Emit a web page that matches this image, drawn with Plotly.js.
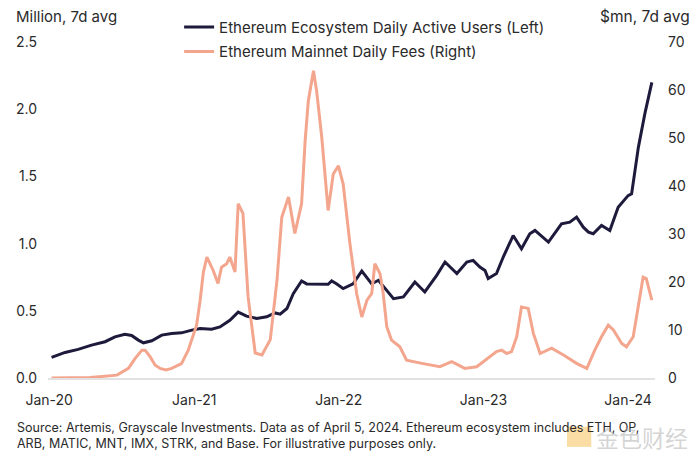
<!DOCTYPE html>
<html>
<head>
<meta charset="utf-8">
<script src="https://cdn.plot.ly/plotly-3.0.1.min.js"></script>
<style>html,body{margin:0;padding:0;background:#fff;}#chart{width:700px;height:466px;}</style>
</head>
<body>
<div id="chart"></div>
<script>
// Ethereum Ecosystem Daily Active Users (Million, 7d avg) - left axis
const usersDates = ['2020-01-07','2020-02-10','2020-03-14','2020-04-17','2020-05-21','2020-06-15','2020-07-10','2020-07-27','2020-08-13','2020-08-26','2020-09-16','2020-10-11','2020-11-05','2020-11-30','2020-12-26','2021-01-16','2021-02-14','2021-03-07','2021-04-01','2021-04-22','2021-05-13','2021-06-08','2021-07-03','2021-07-24','2021-08-06','2021-08-23','2021-09-08','2021-09-29','2021-10-12','2021-11-06','2021-12-05','2021-12-14','2021-12-27','2022-01-12','2022-02-06','2022-02-28','2022-03-25','2022-04-11','2022-04-28','2022-05-19','2022-06-13','2022-07-12','2022-08-06','2022-09-05','2022-09-26','2022-10-26','2022-11-20','2022-12-06','2022-12-23','2023-01-05','2023-01-13','2023-02-03','2023-02-20','2023-03-17','2023-04-07','2023-04-28','2023-05-11','2023-06-14','2023-07-17','2023-08-07','2023-08-24','2023-09-10','2023-09-23','2023-10-05','2023-10-26','2023-11-16','2023-12-07','2024-01-01','2024-01-10','2024-01-27','2024-02-13','2024-03-01'];
const usersValues = [0.153,0.19,0.213,0.245,0.27,0.306,0.326,0.317,0.282,0.262,0.277,0.319,0.331,0.336,0.356,0.369,0.363,0.38,0.43,0.49,0.46,0.443,0.455,0.484,0.475,0.517,0.628,0.722,0.70,0.70,0.697,0.722,0.70,0.665,0.70,0.796,0.70,0.727,0.665,0.59,0.603,0.714,0.64,0.764,0.863,0.777,0.863,0.875,0.826,0.80,0.74,0.777,0.90,1.06,0.962,1.073,1.098,1.011,1.147,1.16,1.197,1.122,1.085,1.073,1.135,1.098,1.27,1.357,1.37,1.716,1.975,2.2];

// Ethereum Mainnet Daily Fees ($mn, 7d avg) - right axis
const feesDates = ['2020-01-07','2020-04-13','2020-06-20','2020-07-19','2020-08-05','2020-08-22','2020-08-30','2020-09-12','2020-09-24','2020-10-07','2020-10-22','2020-11-05','2020-11-30','2020-12-17','2021-01-07','2021-01-16','2021-01-24','2021-02-02','2021-02-18','2021-03-02','2021-03-11','2021-03-24','2021-04-01','2021-04-14','2021-04-22','2021-05-04','2021-05-17','2021-06-04','2021-06-21','2021-07-12','2021-07-29','2021-08-10','2021-08-27','2021-09-12','2021-09-29','2021-10-08','2021-10-16','2021-10-29','2021-11-06','2021-11-19','2021-12-05','2021-12-18','2021-12-31','2022-01-12','2022-01-29','2022-02-15','2022-02-28','2022-03-13','2022-03-25','2022-04-02','2022-04-15','2022-04-23','2022-05-02','2022-05-14','2022-06-04','2022-06-21','2022-08-02','2022-09-13','2022-10-13','2022-11-15','2022-12-15','2023-01-13','2023-02-03','2023-02-16','2023-03-01','2023-03-13','2023-03-26','2023-04-07','2023-04-24','2023-05-07','2023-05-24','2023-06-22','2023-07-22','2023-08-25','2023-09-19','2023-10-09','2023-10-26','2023-11-12','2023-11-25','2023-12-16','2023-12-28','2024-01-14','2024-01-27','2024-02-08','2024-02-16','2024-03-01'];
const feesValues = [0,0.1,0.6,2.0,4.1,5.8,5.8,4.4,2.7,2.0,1.7,2.0,3.0,5.8,11.0,16.2,22.0,25.2,22.4,19.7,23.1,23.8,25.2,22.1,36.3,34.3,16.9,5.2,4.8,8.0,20.4,33.5,37.7,30.1,36.3,49.4,57.7,64.0,59.8,50.1,34.9,42.5,44.2,40.4,28.0,17.6,12.7,16.2,17.6,23.8,21.7,17.6,10.7,7.9,6.5,3.7,3.0,2.35,3.4,2.0,2.35,4.1,5.5,5.8,5.1,5.5,8.6,14.8,14.5,9.3,5.1,6.2,4.8,3.0,2.0,5.8,8.6,11.0,10.0,7.2,6.5,8.6,14.8,21.0,20.7,16.2];

const tickDates = ['2020-01-01','2021-01-01','2022-01-01','2023-01-01','2024-01-01'];
const tickLabels = ['Jan-20','Jan-21','Jan-22','Jan-23','Jan-24'];
const leftTicks = [0,0.5,1.0,1.5,2.0,2.5];
const leftLabels = ['0.0','0.5','1.0','1.5','2.0','2.5'];
const rightTicks = [0,10,20,30,40,50,60,70];

const FONT = 'Inter, "Open Sans", sans-serif';
const TXT = '#2a2a2a';

const traces = [
  {x: usersDates, y: usersValues, type: 'scatter', mode: 'lines', name: 'Ethereum Ecosystem Daily Active Users (Left)',
   line: {color: '#1d1a3c', width: 3}, yaxis: 'y', legendgroup: 'a'},
  {x: feesDates, y: feesValues, type: 'scatter', mode: 'lines', name: 'Ethereum Mainnet Daily Fees (Right)',
   line: {color: '#f3a68d', width: 3}, yaxis: 'y2', legendgroup: 'b'}
];

const layout = {
  width: 700, height: 466,
  margin: {l: 48, r: 45, t: 41, b: 88},
  paper_bgcolor: '#fff', plot_bgcolor: '#fff',
  font: {family: FONT, color: TXT, size: 14},
  showlegend: true,
  legend: {x: 0.216, y: 1.09, xanchor: 'left', yanchor: 'top', bgcolor: 'rgba(0,0,0,0)',
           font: {size: 15, color: TXT, family: FONT}, tracegroupgap: 2, orientation: 'v'},
  xaxis: {type: 'date', range: ['2019-12-29','2024-03-09'], tickvals: tickDates, ticktext: tickLabels,
          showgrid: false, zeroline: false, showline: true, linecolor: '#e2e2e2', linewidth: 2,
          ticks: '', ticklabelstandoff: 8, tickfont: {size: 14, color: TXT}},
  yaxis: {range: [0, 2.5], tickvals: leftTicks, ticktext: leftLabels, showgrid: false, zeroline: false,
          showline: false, ticks: '', ticklabelstandoff: 10, tickfont: {size: 14, color: TXT}},
  yaxis2: {range: [0, 70], overlaying: 'y', side: 'right', tickvals: rightTicks, showgrid: false, zeroline: false,
           showline: false, ticks: '', ticklabelstandoff: 12, tickfont: {size: 14, color: TXT}},
  annotations: [
    {xref: 'paper', yref: 'paper', x: -0.056, y: 1.075, xanchor: 'left', yanchor: 'middle', showarrow: false,
     text: 'Million, 7d avg', font: {size: 15, color: TXT}},
    {xref: 'paper', yref: 'paper', x: 1.061, y: 1.075, xanchor: 'right', yanchor: 'middle', showarrow: false,
     text: '$mn, 7d avg', font: {size: 15.5, color: TXT}},
    {xref: 'paper', yref: 'paper', x: -0.054, y: -0.12, xanchor: 'left', yanchor: 'top', align: 'left', showarrow: false,
     text: 'Source: Artemis, Grayscale Investments. Data as of April 5, 2024. Ethereum ecosystem includes ETH, OP,<br>ARB, MATIC, MNT, IMX, STRK, and Base. For illustrative purposes only.',
     font: {size: 12.5, color: TXT}},
    {xref: 'paper', yref: 'paper', x: 1.058, y: -0.175, xanchor: 'right', yanchor: 'middle', showarrow: false,
     text: '金色财经', font: {size: 23, color: 'rgba(170,170,170,0.5)', family: '"Noto Sans CJK SC", sans-serif'}}
  ],
  shapes: [
    {type: 'rect', xref: 'paper', yref: 'paper', x0: 0.855, x1: 0.895, y0: -0.205, y1: -0.145,
     fillcolor: 'rgba(240,170,30,0.4)', line: {width: 0}}
  ]
};

Plotly.newPlot('chart', traces, layout, {displayModeBar: false, staticPlot: true});
</script>
</body>
</html>
